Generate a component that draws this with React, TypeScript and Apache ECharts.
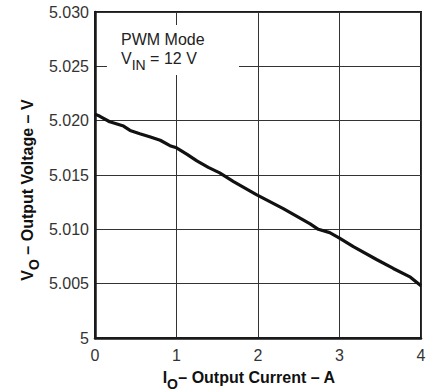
import React, { useEffect, useRef } from "react";
import * as echarts from "echarts";

const current = [0, 0.06, 0.18, 0.27, 0.35, 0.43, 0.55, 0.68, 0.8, 0.92, 1.0, 1.13, 1.25, 1.39, 1.53, 1.7, 1.98, 2.31, 2.64, 2.74, 2.88, 3.0, 3.17, 3.46, 3.66, 3.87, 4.0];
const voltage = [5.0206, 5.0204, 5.0199, 5.0197, 5.0195, 5.0191, 5.0188, 5.0185, 5.0182, 5.0177, 5.0175, 5.0169, 5.0163, 5.0157, 5.0152, 5.0144, 5.0132, 5.0119, 5.0105, 5.01, 5.0097, 5.0092, 5.0084, 5.0072, 5.0064, 5.0056, 5.0048];

const FONT = "'Liberation Sans', Arial, Helvetica, sans-serif";

export default function App() {
  const ref = useRef<HTMLDivElement>(null);
  useEffect(() => {
    if (!ref.current) return;
    const chart = echarts.init(ref.current, null, { renderer: "svg" });
    const data = current.map((c, i) => [c, voltage[i]]);
    const mainTok = (bold: boolean) => ({
      fontFamily: FONT,
      fontSize: 16,
      fontWeight: bold ? "bold" : "normal",
      fill: bold ? "#111" : "#222",
      verticalAlign: "bottom",
      padding: [0, 0, 5, 0],
    });
    const subTok = (bold: boolean) => ({
      fontFamily: FONT,
      fontSize: 14,
      fontWeight: bold ? "bold" : "normal",
      fill: bold ? "#111" : "#222",
      verticalAlign: "bottom",
    });
    chart.setOption({
      animation: false,
      backgroundColor: "#ffffff",
      grid: {
        left: 95,
        right: 11,
        top: 12,
        bottom: 52,
        show: true,
        borderColor: "#1a1a1a",
        borderWidth: 2,
      },
      xAxis: {
        type: "value",
        min: 0,
        max: 4,
        interval: 1,
        axisLine: { show: true, lineStyle: { color: "#1a1a1a", width: 2.5 } },
        axisTick: { show: false },
        axisLabel: { fontFamily: FONT, fontSize: 16, color: "#333", margin: 9 },
        splitLine: { show: true, lineStyle: { color: "#333", width: 1 } },
      },
      yAxis: {
        type: "value",
        min: 5,
        max: 5.03,
        interval: 0.005,
        axisLine: { show: true, lineStyle: { color: "#1a1a1a", width: 2.5 } },
        axisTick: { show: false },
        axisLabel: {
          fontFamily: FONT,
          fontSize: 16,
          color: "#333",
          margin: 6,
          formatter: (v: number) => (Math.abs(v - 5) < 1e-9 ? "5" : v.toFixed(3)),
        },
        splitLine: { show: true, lineStyle: { color: "#333", width: 1 } },
      },
      series: [
        {
          type: "line",
          data,
          showSymbol: false,
          symbol: "none",
          lineStyle: { color: "#111", width: 3.2 },
          z: 3,
        },
      ],
      graphic: [
        {
          type: "rect",
          z: 10,
          shape: { x: 107, y: 25, width: 132, height: 50 },
          style: { fill: "#ffffff" },
        },
        {
          type: "text",
          z: 11,
          x: 121,
          y: 39,
          style: {
            text: "PWM Mode",
            font: `16px ${FONT}`,
            fill: "#222",
            verticalAlign: "middle",
          },
        },
        {
          type: "text",
          z: 11,
          x: 121,
          y: 61,
          style: {
            text: "{m|V}{s|IN}{m| = 12 V}",
            verticalAlign: "middle",
            rich: { m: mainTok(false), s: subTok(false) },
          },
        },
        {
          type: "text",
          z: 11,
          x: 249,
          y: 380,
          style: {
            text: "{b|I}{s|O}{b|– Output Current – A}",
            align: "center",
            verticalAlign: "middle",
            rich: { b: mainTok(true), s: subTok(true) },
          },
        },
        {
          type: "text",
          z: 11,
          x: 30,
          y: 190,
          rotation: Math.PI / 2,
          style: {
            text: "{b|V}{s|O}{b| – Output Voltage – V}",
            align: "center",
            verticalAlign: "middle",
            rich: { b: mainTok(true), s: subTok(true) },
          },
        },
      ],
    });
    return () => chart.dispose();
  }, []);
  return (
    <div
      ref={ref}
      style={{ position: "fixed", left: 0, top: 0, width: 432, height: 390 }}
    />
  );
}
